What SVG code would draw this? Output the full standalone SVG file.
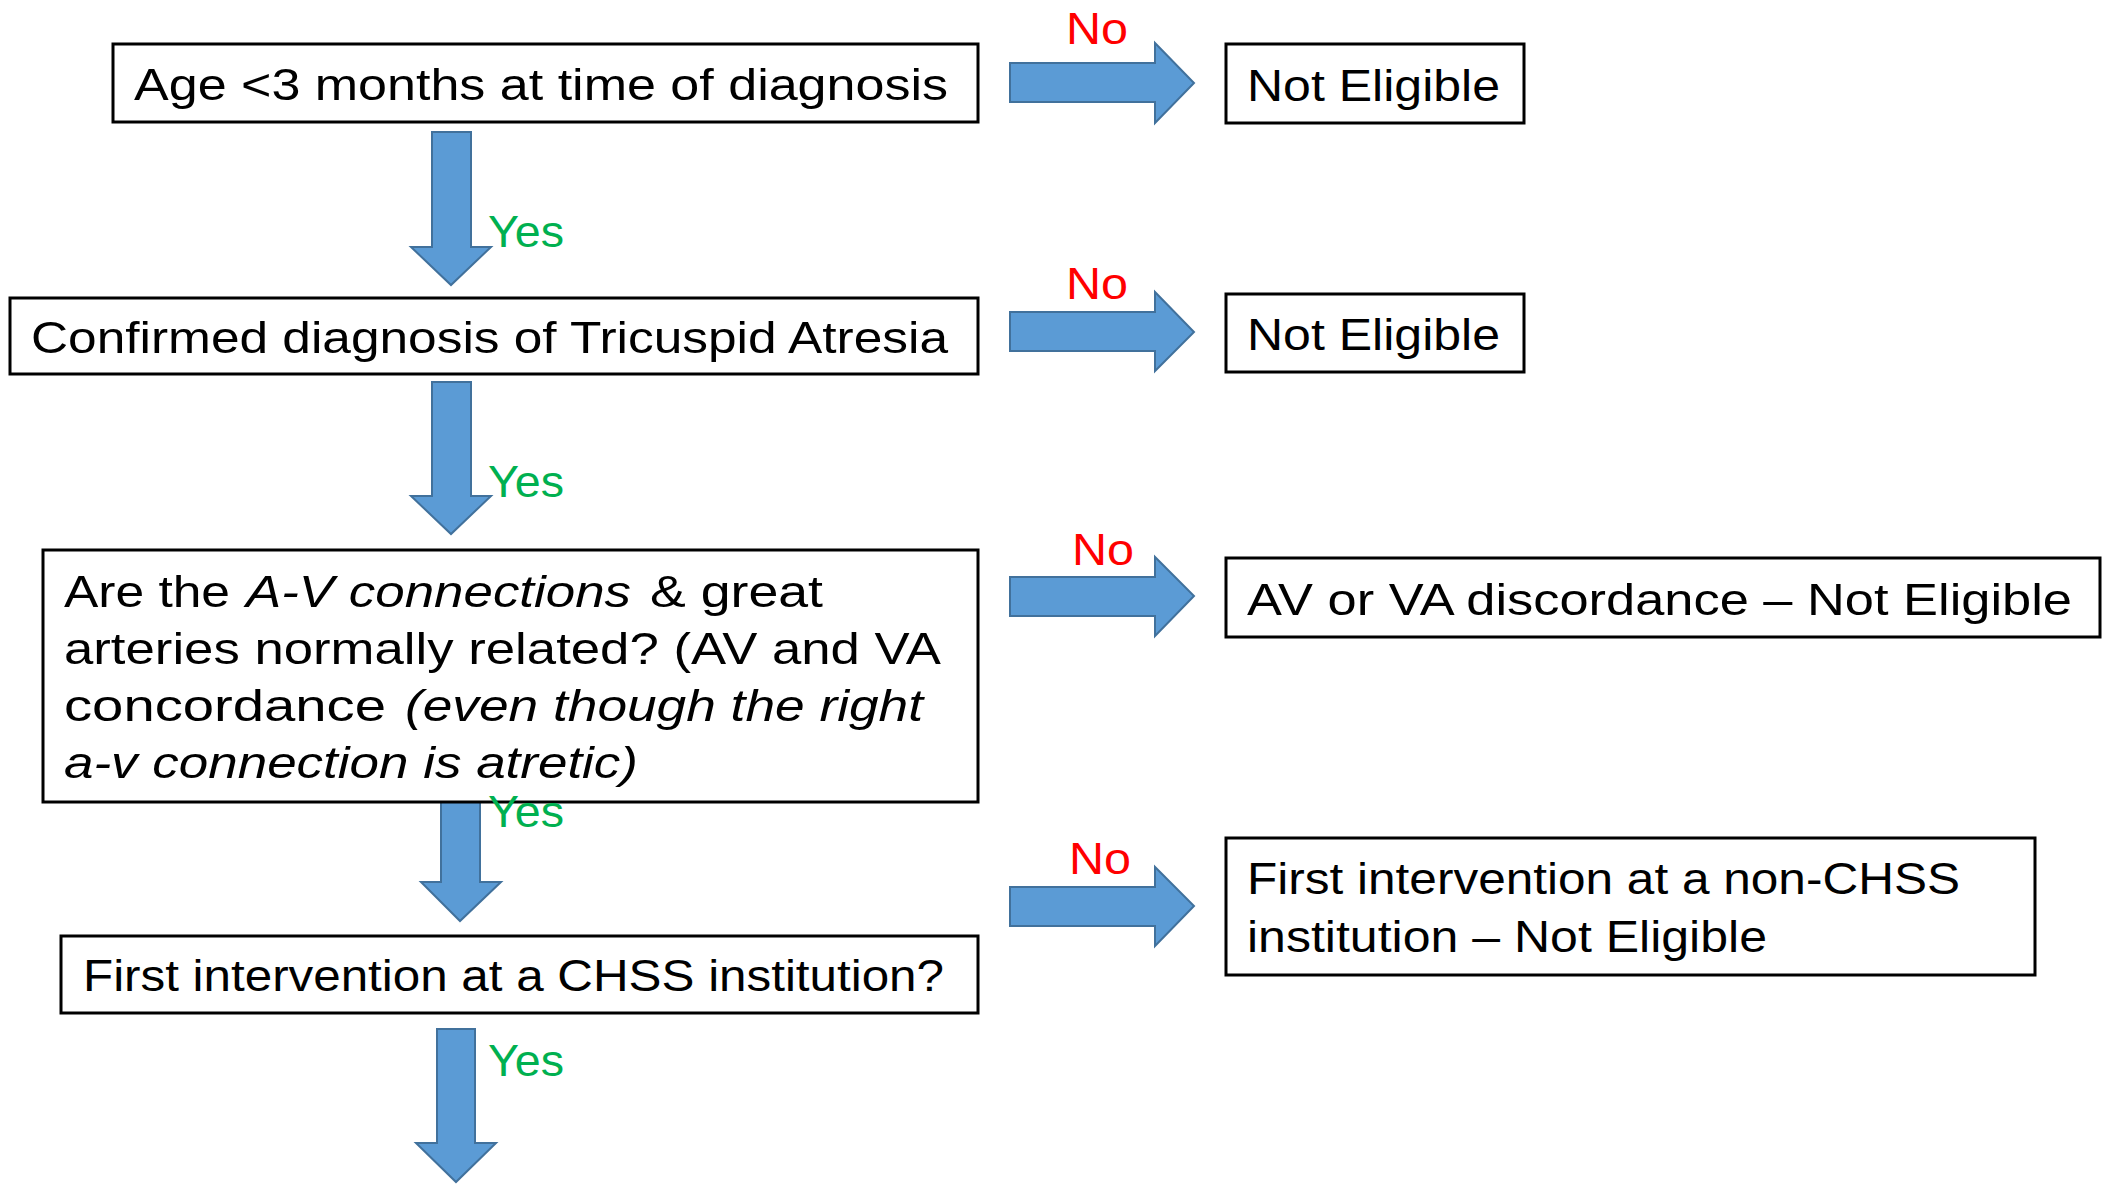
<svg xmlns="http://www.w3.org/2000/svg" width="2103" height="1184" viewBox="0 0 2103 1184">
<style>
.box{fill:#fff;stroke:#000;stroke-width:3}
.arr{fill:#5B9BD5;stroke:#41719C;stroke-width:2}
.t{font-family:"Liberation Sans",Arial,sans-serif;font-size:45px;fill:#000}
.i{font-style:italic}
.no{font-family:"Liberation Sans",Arial,sans-serif;font-size:45px;fill:#FF0000}
.yes{font-family:"Liberation Sans",Arial,sans-serif;font-size:45px;fill:#00B050}
</style>
<rect width="2103" height="1184" fill="#fff"/>
<g id="connectors">
<polygon class="arr" points="432,132 471,132 471,247 491,247 451,285 411,247 432,247"/>
<polygon class="arr" points="432,382 471,382 471,496 491,496 451,534 411,496 432,496"/>
<polygon class="arr" points="441,802 480,802 480,882 501,882 460,921 421,882 441,882"/>
<polygon class="arr" points="437,1029 475,1029 475,1143 496,1143 456,1182 416,1143 437,1143"/>
<polygon class="arr" points="1010,63 1155,63 1155,43 1194,83 1155,123 1155,102 1010,102"/>
<polygon class="arr" points="1010,312 1155,312 1155,292 1194,332 1155,371 1155,351 1010,351"/>
<polygon class="arr" points="1010,577 1155,577 1155,557 1194,596 1155,636 1155,616 1010,616"/>
<polygon class="arr" points="1010,887 1155,887 1155,867 1194,906 1155,946 1155,926 1010,926"/>
</g>
<g id="n1">
<rect class="box" x="113" y="44" width="865" height="78"/>
<text class="t" x="134" y="100" textLength="814" lengthAdjust="spacingAndGlyphs">Age &lt;3 months at time of diagnosis</text>
</g>
<g id="n2">
<rect class="box" x="10" y="298" width="968" height="76"/>
<text class="t" x="31" y="353" textLength="917" lengthAdjust="spacingAndGlyphs">Confirmed diagnosis of Tricuspid Atresia</text>
</g>
<g id="n3">
<rect class="box" x="43" y="550" width="935" height="252"/>
<text class="t" x="64" y="607" textLength="166" lengthAdjust="spacingAndGlyphs">Are the</text>
<text class="t i" x="246" y="607" textLength="385" lengthAdjust="spacingAndGlyphs">A-V connections</text>
<text class="t" x="650" y="607" textLength="173" lengthAdjust="spacingAndGlyphs">&amp; great</text>
<text class="t" x="64" y="664" textLength="877" lengthAdjust="spacingAndGlyphs">arteries normally related? (AV and VA</text>
<text class="t" x="64" y="721" textLength="322" lengthAdjust="spacingAndGlyphs">concordance</text>
<text class="t i" x="405" y="721" textLength="518" lengthAdjust="spacingAndGlyphs">(even though the right</text>
<text class="t i" x="64" y="778" textLength="574" lengthAdjust="spacingAndGlyphs">a-v connection is atretic)</text>
</g>
<g id="n4">
<rect class="box" x="61" y="936" width="917" height="77"/>
<text class="t" x="83" y="991" textLength="861" lengthAdjust="spacingAndGlyphs">First intervention at a CHSS institution?</text>
</g>
<g id="ne1">
<rect class="box" x="1226" y="44" width="298" height="79"/>
<text class="t" x="1247" y="101" textLength="253" lengthAdjust="spacingAndGlyphs">Not Eligible</text>
</g>
<g id="ne2">
<rect class="box" x="1226" y="294" width="298" height="78"/>
<text class="t" x="1247" y="350" textLength="253" lengthAdjust="spacingAndGlyphs">Not Eligible</text>
</g>
<g id="ne3">
<rect class="box" x="1226" y="558" width="874" height="79"/>
<text class="t" x="1247" y="615" textLength="825" lengthAdjust="spacingAndGlyphs">AV or VA discordance – Not Eligible</text>
</g>
<g id="ne4">
<rect class="box" x="1226" y="838" width="809" height="137"/>
<text class="t" x="1247" y="894" textLength="713" lengthAdjust="spacingAndGlyphs">First intervention at a non-CHSS</text>
<text class="t" x="1247" y="952" textLength="520" lengthAdjust="spacingAndGlyphs">institution – Not Eligible</text>
</g>
<g id="labels">
<text class="no" x="1066" y="44" textLength="62" lengthAdjust="spacingAndGlyphs">No</text>
<text class="no" x="1066" y="299" textLength="62" lengthAdjust="spacingAndGlyphs">No</text>
<text class="no" x="1072" y="565" textLength="62" lengthAdjust="spacingAndGlyphs">No</text>
<text class="no" x="1069" y="874" textLength="62" lengthAdjust="spacingAndGlyphs">No</text>
<text class="yes" x="488" y="247" textLength="76" lengthAdjust="spacingAndGlyphs">Yes</text>
<text class="yes" x="488" y="497" textLength="76" lengthAdjust="spacingAndGlyphs">Yes</text>
<text class="yes" x="488" y="827" textLength="76" lengthAdjust="spacingAndGlyphs">Yes</text>
<text class="yes" x="488" y="1076" textLength="76" lengthAdjust="spacingAndGlyphs">Yes</text>
</g>
</svg>
